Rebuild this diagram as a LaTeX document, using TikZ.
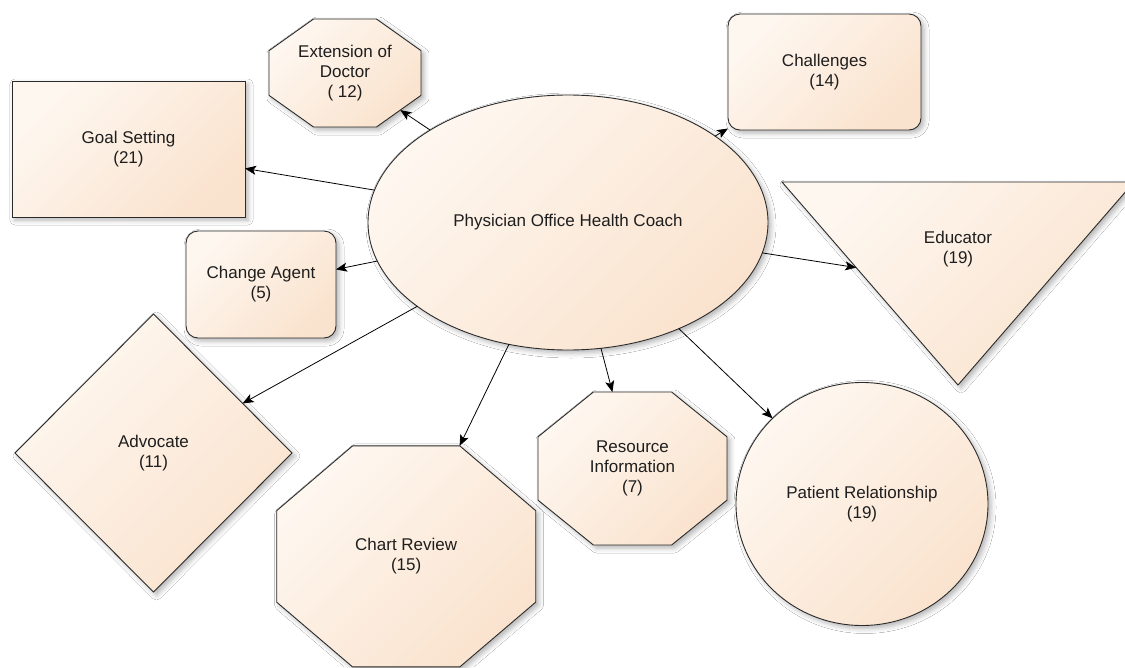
\documentclass[tikz,border=0pt]{standalone}
\usepackage{fontspec}
\setmainfont{Liberation Sans}
\usetikzlibrary{shapes.geometric,arrows.meta,shadows.blur}
\definecolor{peachL}{HTML}{FEF7F0}
\definecolor{peachD}{HTML}{FAE3CE}
\definecolor{edgec}{HTML}{2B2B2B}
\definecolor{txtc}{HTML}{1E1E1E}
\begin{document}
\begin{tikzpicture}[x=1pt,y=-1pt,
  filled/.style={draw=edgec, line width=0.9pt, top color=peachL, bottom color=peachD, shading angle=45,
    blur shadow={shadow xshift=3pt, shadow yshift=-3pt, shadow blur radius=5pt, shadow opacity=30}},
  lbl/.style={align=center, text=txtc, font=\fontsize{17}{20}\selectfont},
  shp/.style={filled, lbl, inner sep=0pt, outer sep=0pt},
  octa/.style={shp, regular polygon, regular polygon sides=8, transform shape},
  rbox/.style={shp, rectangle, rounded corners=12pt},
  arr/.style={draw=black, line width=0.8pt, -{Stealth[length=11pt,width=9pt,inset=2.5pt]}}]
\fill[white] (0,0) rectangle (1125,667);
\useasboundingbox (0,0) rectangle (1125,667);

% shapes
\node[shp, ellipse, minimum width=400pt, minimum height=255pt] (main) at (568,222.5) {Physician Office Health Coach};
\node[shp, rectangle, minimum width=233pt, minimum height=136pt] (goal) at (128.5,149) {Goal Setting\\(21)};
\begin{scope}[shift={(345,73)}]
  \node[octa, xscale=1.407, minimum size=116.9pt] (doc) {};
\end{scope}
\node[lbl] (doctxt) at (doc) {Extension of\\Doctor\\( 12)};
\node[rbox, minimum width=193pt, minimum height=116pt] (chal) at (824.5,72) {Challenges\\(14)};
\node[rbox, minimum width=150pt, minimum height=107pt] (change) at (261,284.5) {Change Agent\\(5)};
\node[shp, diamond, minimum width=277pt, minimum height=278pt] (adv) at (153.5,453) {Advocate\\(11)};
\begin{scope}[shift={(406.2,556.4)}]
  \node[octa, xscale=1.172, minimum size=239.2pt] (chart) {};
\end{scope}
\node[lbl] (charttxt) at (chart) {Chart Review\\(15)};
\begin{scope}[shift={(632.5,468.5)}]
  \node[octa, xscale=1.235, minimum size=165.6pt] (res) {};
\end{scope}
\node[lbl] (restxt) at (res) {Resource\\Information\\(7)};
\node[shp, ellipse, minimum width=252pt, minimum height=243pt] (pat) at (862,504) {Patient Relationship\\(19)};
\path[filled] (782,182) -- (1134,182) -- (958,385) -- cycle;
\node[lbl] (edu) at (958,249) {Educator\\(19)};
\coordinate (edutip) at (856.2,267.6);
\coordinate (chartv) at ([xshift=53.4pt]chart.north);

% connectors
\draw[arr] (main) -- (goal);
\draw[arr] (main) -- (doc);
\draw[arr] (main) -- (chal);
\draw[arr] (main) -- (change);
\draw[arr] (main) -- (edutip);
\draw[arr] (main) -- (adv);
\draw[arr] (main) -- (chartv);
\draw[arr] (main) -- (res);
\draw[arr] (main) -- (pat);
\end{tikzpicture}
\end{document}
